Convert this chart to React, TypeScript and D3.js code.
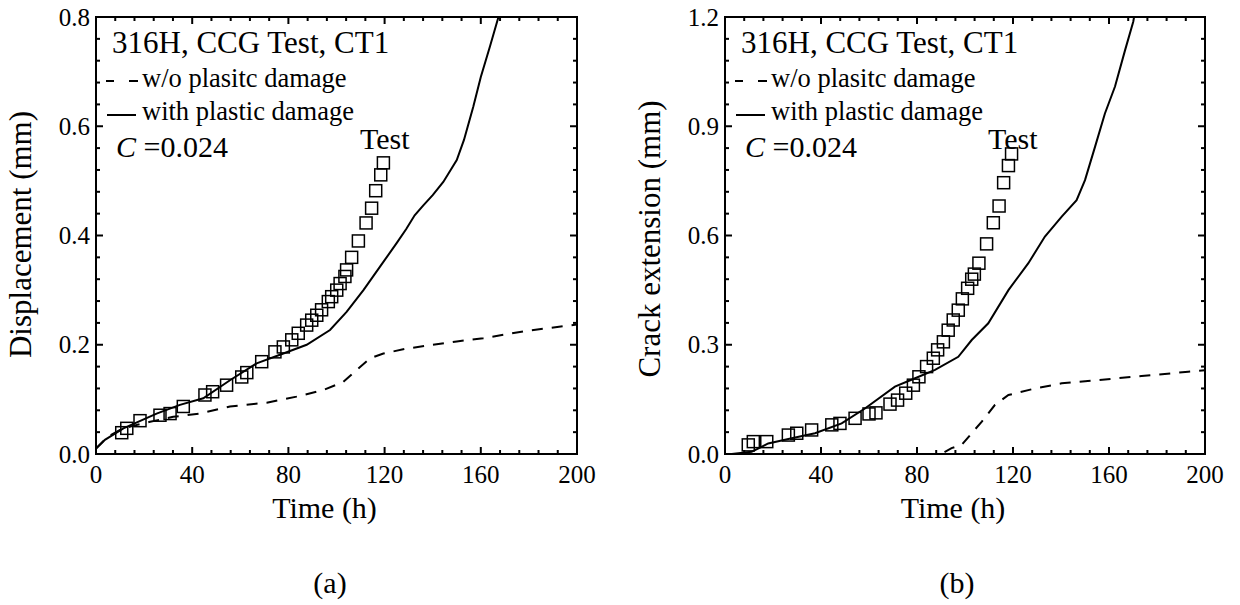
import React from "react";
import * as d3 from "d3";

// ---------- Data ----------
// Panel (a): Displacement (mm) vs Time (h)
const dispSolidT = [0, 3.7, 11.4, 25.2, 34.9, 44.6, 55.7, 66.8, 77.9, 87.6, 97.3, 104.2, 111.2, 118.1, 125, 129, 132.5, 136.1, 140, 144.4, 150, 153, 156.9, 160, 163.8, 168];
const dispSolidV = [0.01, 0.026, 0.047, 0.074, 0.09, 0.102, 0.135, 0.166, 0.184, 0.2, 0.227, 0.26, 0.3, 0.343, 0.386, 0.412, 0.437, 0.455, 0.474, 0.498, 0.538, 0.575, 0.636, 0.69, 0.746, 0.81];
const dispDashT = [0, 5, 10, 15, 22.5, 32.1, 43.2, 55.7, 71, 83.4, 94.5, 102.8, 108.4, 113.9, 119.5, 129.2, 150, 161, 180, 200];
const dispDashV = [0.01, 0.032, 0.044, 0.051, 0.059, 0.068, 0.074, 0.087, 0.094, 0.105, 0.117, 0.132, 0.154, 0.175, 0.184, 0.193, 0.206, 0.212, 0.226, 0.237];
const dispTestT = [10.7, 12.8, 18.3, 26.6, 30.8, 36.3, 45.3, 48.5, 54.3, 60.6, 62.7, 68.9, 74.4, 77.9, 81.4, 84.1, 87.6, 89.7, 91.8, 93.8, 96.6, 98, 100.1, 101.5, 103.5, 104.2, 106.3, 109.1, 112.3, 114.6, 116.3, 118.4, 119.5];
const dispTestV = [0.039, 0.047, 0.061, 0.071, 0.074, 0.087, 0.108, 0.114, 0.126, 0.141, 0.149, 0.169, 0.187, 0.196, 0.209, 0.221, 0.236, 0.245, 0.254, 0.264, 0.279, 0.288, 0.3, 0.312, 0.325, 0.337, 0.36, 0.39, 0.423, 0.45, 0.482, 0.511, 0.533];

// Panel (b): Crack extension (mm) vs Time (h)
const crackSolidT = [0, 2.8, 11.1, 18, 27.8, 37.5, 48.6, 58.3, 70.8, 79.2, 87.5, 97.2, 102.8, 109.7, 118.1, 126.4, 133.3, 140.3, 146.5, 150, 154.2, 158.3, 162.5, 166.7, 170.1, 171];
const crackSolidV = [0, 0, 0.006, 0.029, 0.043, 0.057, 0.084, 0.125, 0.185, 0.208, 0.231, 0.267, 0.313, 0.359, 0.45, 0.524, 0.597, 0.652, 0.697, 0.752, 0.844, 0.935, 1.009, 1.109, 1.187, 1.22];
const crackDashT = [0, 90, 94.4, 98.6, 102.8, 107, 112.5, 118.1, 129.2, 140.3, 155.5, 173.6, 193, 200];
const crackDashV = [0, 0, 0.016, 0.025, 0.057, 0.089, 0.135, 0.162, 0.18, 0.194, 0.203, 0.214, 0.226, 0.23];
const crackTestT = [9.7, 11.8, 17.4, 26.4, 29.9, 36.1, 44.5, 47.9, 54.2, 60, 62.9, 68.75, 71.9, 75.3, 78.5, 80.8, 84, 86.8, 88.6, 91, 93, 95.1, 97.2, 98.9, 101.1, 102.8, 103.9, 105.8, 109, 111.8, 114.2, 116.1, 118.1, 119.4];
const crackTestV = [0.025, 0.034, 0.034, 0.052, 0.057, 0.066, 0.08, 0.084, 0.098, 0.11, 0.113, 0.137, 0.148, 0.167, 0.189, 0.212, 0.24, 0.263, 0.286, 0.308, 0.34, 0.368, 0.395, 0.426, 0.455, 0.48, 0.494, 0.524, 0.577, 0.635, 0.681, 0.745, 0.792, 0.824];

const xTicks = [0, 40, 80, 120, 160, 200];
const dispTicks = [0.0, 0.2, 0.4, 0.6, 0.8];
const crackTicks = [0.0, 0.3, 0.6, 0.9, 1.2];

const legendTitle = "316H, CCG Test, CT1";
const legendDash = "w/o plasitc damage";
const legendSolid = "with plastic damage";
const cValue = "=0.024";
const testLabel = "Test";
const xTitle = "Time (h)";

const FONT = '"Liberation Serif", "Times New Roman", Times, serif';
const fs = (size: number, extra: React.CSSProperties = {}): React.CSSProperties => ({
  fontFamily: FONT,
  fontSize: size,
  ...extra,
});

type PanelProps = {
  id: string;
  x0: number;
  x1: number;
  yMax: number;
  yTicks: number[];
  yMinorStep: number;
  yTitle: string;
  yTitleY: number;
  yTitleX: number;
  solidT: number[];
  solidV: number[];
  dashT: number[];
  dashV: number[];
  testT: number[];
  testV: number[];
  testLabelX: number;
  panelLabel: string;
  panelLabelX: number;
};

const Y0 = 17;
const Y1 = 454;

function Panel(p: PanelProps) {
  const x = d3.scaleLinear().domain([0, 200]).range([p.x0, p.x1]);
  const y = d3.scaleLinear().domain([0, p.yMax]).range([Y1, Y0]);
  const line = (ts: number[], vs: number[]) =>
    d3.line<number>().x((_, i) => x(ts[i])).y((_, i) => y(vs[i]))(ts) || "";

  const xMinor = d3.range(0, 200.001, 8).filter((v) => v % 40 !== 0);
  const nMinorY = Math.round(p.yMax / p.yMinorStep);
  const yMinor = d3.range(0, nMinorY + 1).filter((i) => i % 5 !== 0).map((i) => i * p.yMinorStep);
  const MAJ = 7;
  const MIN = 4;
  const sq = 12;

  return (
    <g>
      <defs>
        <clipPath id={`clip-${p.id}`}>
          <rect x={p.x0} y={Y0} width={p.x1 - p.x0} height={Y1 - Y0} />
        </clipPath>
      </defs>
      {/* ticks */}
      <g stroke="#000" strokeWidth={2}>
        {xTicks.map((t) => (
          <g key={`xt${t}`}>
            <line x1={x(t)} x2={x(t)} y1={Y1} y2={Y1 - MAJ} />
            <line x1={x(t)} x2={x(t)} y1={Y0} y2={Y0 + MAJ} />
          </g>
        ))}
        {xMinor.map((t) => (
          <g key={`xm${t}`}>
            <line x1={x(t)} x2={x(t)} y1={Y1} y2={Y1 - MIN} />
            <line x1={x(t)} x2={x(t)} y1={Y0} y2={Y0 + MIN} />
          </g>
        ))}
        {p.yTicks.map((v) => (
          <g key={`yt${v}`}>
            <line x1={p.x0} x2={p.x0 + MAJ} y1={y(v)} y2={y(v)} />
            <line x1={p.x1} x2={p.x1 - MAJ} y1={y(v)} y2={y(v)} />
          </g>
        ))}
        {yMinor.map((v) => (
          <g key={`ym${v}`}>
            <line x1={p.x0} x2={p.x0 + MIN} y1={y(v)} y2={y(v)} />
            <line x1={p.x1} x2={p.x1 - MIN} y1={y(v)} y2={y(v)} />
          </g>
        ))}
      </g>
      {/* data */}
      <g clipPath={`url(#clip-${p.id})`}>
        <path d={line(p.dashT, p.dashV)} fill="none" stroke="#000" strokeWidth={2} strokeDasharray="11,9" />
        <path d={line(p.solidT, p.solidV)} fill="none" stroke="#000" strokeWidth={2} />
        {p.testT.map((t, i) => (
          <rect
            key={`sq${i}`}
            x={x(t) - sq / 2}
            y={y(p.testV[i]) - sq / 2}
            width={sq}
            height={sq}
            fill="none"
            stroke="#000"
            strokeWidth={1.5}
          />
        ))}
      </g>
      {/* frame */}
      <rect x={p.x0} y={Y0} width={p.x1 - p.x0} height={Y1 - Y0} fill="none" stroke="#000" strokeWidth={2} />
      {/* tick labels */}
      {xTicks.map((t) => (
        <text key={`xl${t}`} x={x(t)} y={483} textAnchor="middle" style={fs(25)}>{t}</text>
      ))}
      {p.yTicks.map((v) => (
        <text key={`yl${v}`} x={p.x0 - 6} y={y(v) + 8.5} textAnchor="end" style={fs(25)}>{v.toFixed(1)}</text>
      ))}
      {/* axis titles */}
      <text x={(p.x0 + p.x1) / 2 - 12} y={518} textAnchor="middle" style={fs(30)}>{xTitle}</text>
      <text
        transform={`translate(${p.yTitleX},${p.yTitleY}) rotate(-90)`}
        textAnchor="middle"
        style={fs(31)}
      >
        {p.yTitle}
      </text>
      <text x={p.panelLabelX} y={593} textAnchor="middle" style={fs(30)}>{p.panelLabel}</text>
      {/* legend */}
      <text x={p.x0 + 16} y={53} style={fs(31)}>{legendTitle}</text>
      <line x1={p.x0 + 10} x2={p.x0 + 18} y1={81} y2={81} stroke="#000" strokeWidth={2} />
      <line x1={p.x0 + 33} x2={p.x0 + 42} y1={81} y2={81} stroke="#000" strokeWidth={2} />
      <text x={p.x0 + 46} y={87} style={fs(26.5)}>{legendDash}</text>
      <line x1={p.x0 + 11} x2={p.x0 + 40} y1={115} y2={115} stroke="#000" strokeWidth={2} />
      <text x={p.x0 + 46} y={120} style={fs(26.5)}>{legendSolid}</text>
      <text x={p.x0 + 20} y={157} style={fs(30)}>
        <tspan style={{ fontStyle: "italic" }}>C</tspan>
        <tspan> {cValue}</tspan>
      </text>
      <text x={p.testLabelX} y={149} style={fs(30)}>{testLabel}</text>
    </g>
  );
}

export default function App() {
  return (
    <svg
      width={1240}
      height={605}
      viewBox="0 0 1240 605"
      style={{ position: "absolute", left: 0, top: 0, background: "#fff" }}
    >
      <rect x={0} y={0} width={1240} height={605} fill="#fff" />
      <Panel
        id="a"
        x0={96}
        x1={577}
        yMax={0.8}
        yTicks={dispTicks}
        yMinorStep={0.04}
        yTitle="Displacement (mm)"
        yTitleX={31}
        yTitleY={234.5}
        solidT={dispSolidT}
        solidV={dispSolidV}
        dashT={dispDashT}
        dashV={dispDashV}
        testT={dispTestT}
        testV={dispTestV}
        testLabelX={360}
        panelLabel="(a)"
        panelLabelX={330}
      />
      <Panel
        id="b"
        x0={725}
        x1={1205}
        yMax={1.2}
        yTicks={crackTicks}
        yMinorStep={0.06}
        yTitle="Crack extension (mm)"
        yTitleX={660}
        yTitleY={239}
        solidT={crackSolidT}
        solidV={crackSolidV}
        dashT={crackDashT}
        dashV={crackDashV}
        testT={crackTestT}
        testV={crackTestV}
        testLabelX={988}
        panelLabel="(b)"
        panelLabelX={957}
      />
    </svg>
  );
}
